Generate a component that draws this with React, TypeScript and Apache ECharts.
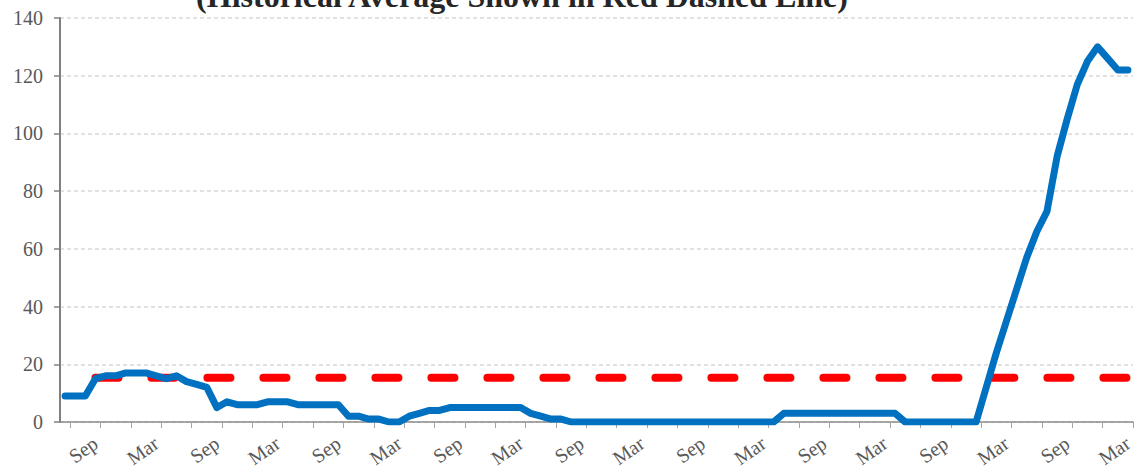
import React, { useEffect, useRef } from "react";
import * as echarts from "echarts";

const MONTHS = ["Jan", "Feb", "Mar", "Apr", "May", "Jun", "Jul", "Aug", "Sep", "Oct", "Nov", "Dec"];
const START_MONTH_INDEX = 5; // first category is June
const N_CATEGORIES = 106;
const categories: string[] = Array.from({ length: N_CATEGORIES }, (_, i) => MONTHS[(START_MONTH_INDEX + i) % 12]);

const seriesValues: number[] = [
  9, 9, 9, 15, 16, 16, 17, 17, 17, 16, 15, 16, 14, 13, 12,
  5, 7, 6, 6, 6, 7, 7, 7,
  6, 6, 6, 6, 6,
  2, 2, 1, 1, 0, 0, 2, 3, 4, 4,
  5, 5, 5, 5, 5, 5, 5, 5,
  3, 2, 1, 1,
  0, 0, 0, 0, 0, 0, 0, 0, 0, 0, 0, 0, 0, 0, 0, 0, 0, 0, 0, 0, 0,
  3, 3, 3, 3, 3, 3, 3, 3, 3, 3, 3, 3,
  0, 0, 0, 0, 0, 0, 0, 0,
  12, 24, 35, 46, 57, 66, 73, 92, 105, 117, 125, 130, 126, 122, 122,
];

const HISTORICAL_AVERAGE = 15.3;
const HISTORICAL_START_INDEX = 3;
const historicalValues: (number | null)[] = categories.map((_, i) => (i >= HISTORICAL_START_INDEX ? HISTORICAL_AVERAGE : null));

const yTicks = { min: 0, max: 140, interval: 20 };
const TITLE = "(Historical Average Shown in Red Dashed Line)";

const FONT = "'Liberation Serif', 'Times New Roman', serif";

export default function App() {
  const ref = useRef<HTMLDivElement>(null);
  useEffect(() => {
    document.body.style.margin = "0";
    if (!ref.current) return;
    const chart = echarts.init(ref.current, null, { renderer: "svg" });
    chart.setOption({
      animation: false,
      backgroundColor: "#ffffff",
      textStyle: { fontFamily: FONT },
      graphic: [
        {
          type: "text",
          x: 522,
          y: -4,
          style: {
            text: TITLE,
            textAlign: "center",
            textVerticalAlign: "middle",
            font: `bold 32px ${FONT}`,
            fill: "#262626",
          },
        },
      ],
      grid: { left: 60, right: 4, top: 18, bottom: 51, containLabel: false },
      xAxis: {
        type: "category",
        data: categories,
        boundaryGap: true,
        axisLine: { show: true, lineStyle: { color: "#8c8c8c", width: 1.5 } },
        axisTick: {
          show: true,
          length: 6,
          interval: (index: number) => (index - 1) % 3 === 0,
          lineStyle: { color: "#a6a6a6", width: 1 },
        },
        axisLabel: {
          interval: (index: number) => index % 6 === 3,
          rotate: 35,
          margin: 19,
          color: "#595959",
          fontSize: 20,
          fontFamily: FONT,
        },
        splitLine: { show: false },
      },
      yAxis: {
        type: "value",
        min: yTicks.min,
        max: yTicks.max,
        interval: yTicks.interval,
        axisLine: { show: true, lineStyle: { color: "#808080", width: 2 } },
        axisTick: { show: true, length: 6, lineStyle: { color: "#808080", width: 1.5 } },
        axisLabel: { margin: 17, color: "#595959", fontSize: 20, fontFamily: FONT },
        splitLine: { show: true, lineStyle: { color: "#d9d9d9", width: 1.5, type: [4, 3] } },
      },
      series: [
        {
          name: "Historical Average",
          type: "line",
          data: historicalValues,
          showSymbol: false,
          symbol: "none",
          lineStyle: { color: "#ff0000", width: 8, type: [23, 33], cap: "round", dashOffset: 0 },
          z: 2,
        },
        {
          name: "Value",
          type: "line",
          data: seriesValues,
          showSymbol: false,
          symbol: "none",
          lineStyle: { color: "#0070c0", width: 7, cap: "round", join: "round" },
          z: 3,
        },
      ],
    });
    return () => chart.dispose();
  }, []);
  return <div ref={ref} style={{ width: 1137, height: 473 }} />;
}
